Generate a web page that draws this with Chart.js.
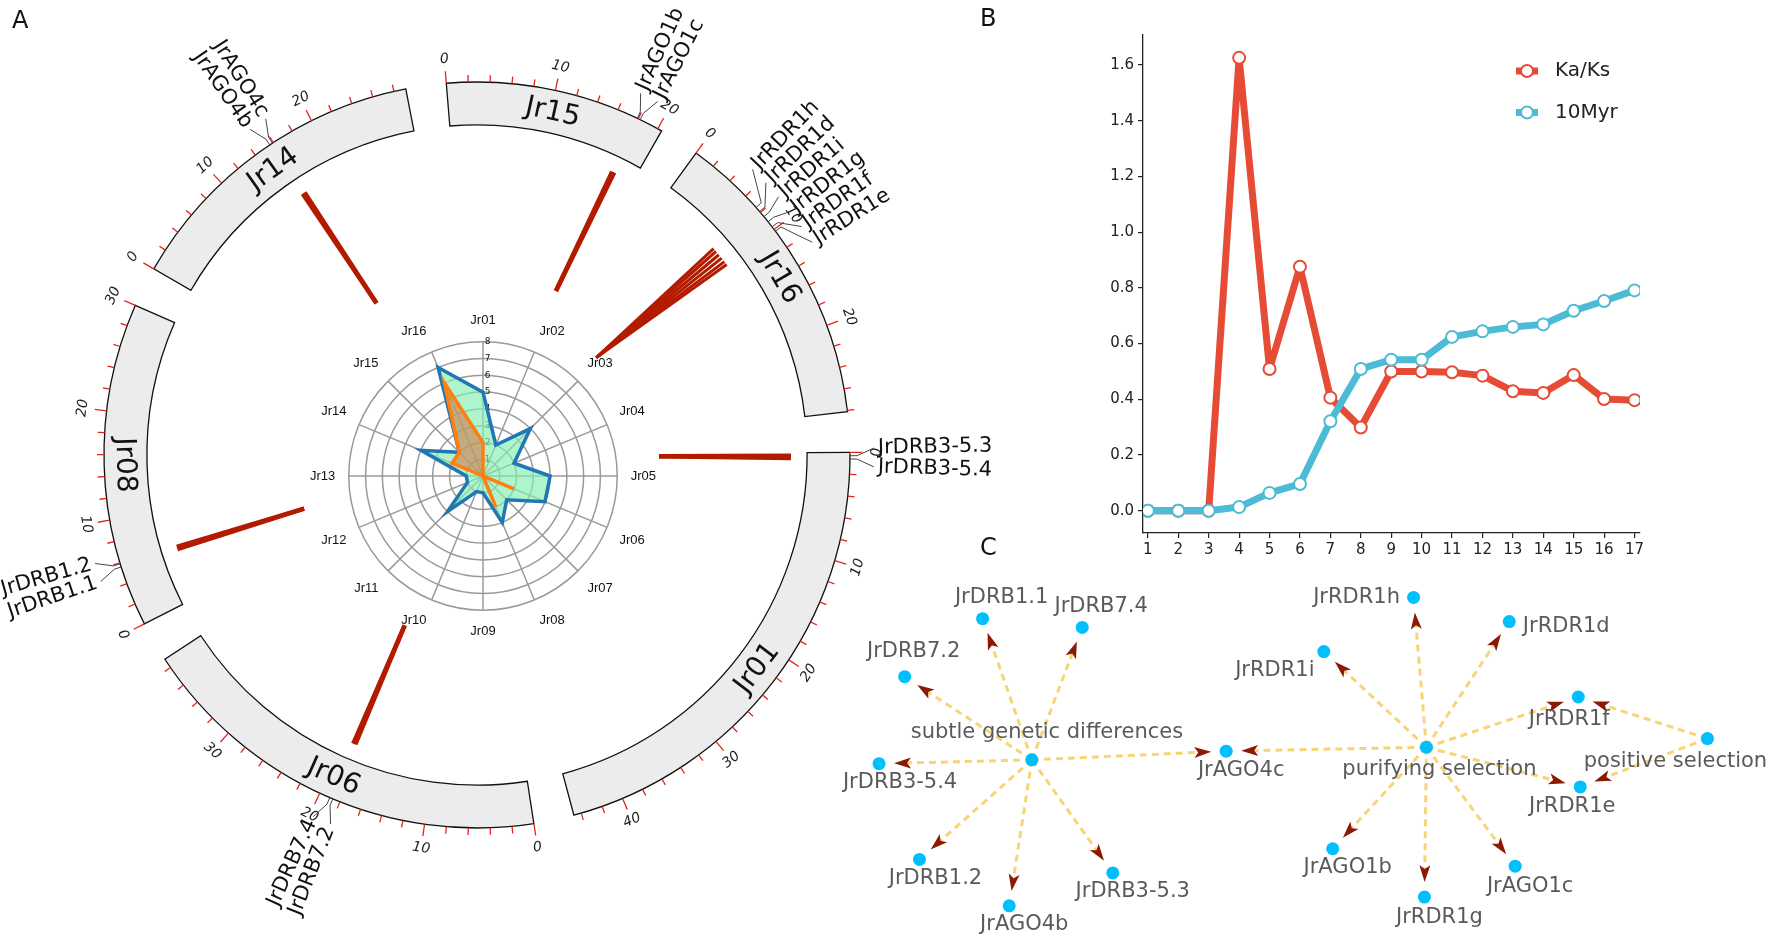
<!DOCTYPE html>
<html>
<head>
<meta charset="utf-8">
<script src="https://cdn.jsdelivr.net/npm/chart.js@4.4.1/dist/chart.umd.min.js"></script>
<style>
  body { margin: 0; background: #fff; }
  #page { position: relative; width: 1783px; height: 950px; overflow: hidden; font-family: 'DejaVu Sans', sans-serif; }
  canvas { position: absolute; }
  .tag { position: absolute; font-size: 24px; line-height: 24px; color: #111; }
</style>
</head>
<body>
<div id="page">
  <canvas id="circos" width="1010" height="950" style="left:0;top:0"></canvas>
  <canvas id="radar" width="346" height="346" style="left:310px;top:303px"></canvas>
  <canvas id="lines" width="703" height="580" style="left:1080px;top:0"></canvas>
  <canvas id="network" width="943" height="390" style="left:840px;top:560px"></canvas>
  <div class="tag" style="left:12px;top:8px">A</div>
  <div class="tag" style="left:980px;top:6px">B</div>
  <div class="tag" style="left:980px;top:535px">C</div>
</div>
<script>
// ---------- data ----------
// A: chromosomes (Mb) and gene positions
const chromNames = ['Jr01', 'Jr06', 'Jr08', 'Jr14', 'Jr15', 'Jr16'];
const chromLengths = [44.7, 38.9, 30.0, 29.1, 20.4, 28.1];
const geneNames = ['JrDRB3-5.3', 'JrDRB3-5.4', 'JrDRB7.2', 'JrDRB7.4', 'JrDRB1.1', 'JrDRB1.2',
  'JrAGO4b', 'JrAGO4c', 'JrAGO1b', 'JrAGO1c',
  'JrRDR1h', 'JrRDR1d', 'JrRDR1i', 'JrRDR1g', 'JrRDR1f', 'JrRDR1e'];
const geneChrom = ['Jr01', 'Jr01', 'Jr06', 'Jr06', 'Jr08', 'Jr08', 'Jr14', 'Jr14', 'Jr15', 'Jr15',
  'Jr16', 'Jr16', 'Jr16', 'Jr16', 'Jr16', 'Jr16'];
const genePos = [0.3, 0.6, 18.7, 19.0, 5.6, 5.9, 15.6, 15.9, 17.9, 18.2, 7.4, 7.9, 8.5, 9.1, 9.7, 10.2];

// A: radar in the middle
const radarLabels = ['Jr01', 'Jr02', 'Jr03', 'Jr04', 'Jr05', 'Jr06', 'Jr07', 'Jr08',
  'Jr09', 'Jr10', 'Jr11', 'Jr12', 'Jr13', 'Jr14', 'Jr15', 'Jr16'];
const radarOuter = [5, 2, 4, 2, 4, 4, 2, 3, 1, 1, 3, 1, 1, 4, 2, 7];
const radarInner = [2, 0, 0, 0, 0, 2, 0, 2, 0, 0, 0, 0, 0, 2, 2, 6];

// B: line chart
const stages = [1, 2, 3, 4, 5, 6, 7, 8, 9, 10, 11, 12, 13, 14, 15, 16, 17];
const kaKs = [0, 0, 0, 1.626, 0.509, 0.876, 0.406, 0.299, 0.5, 0.5, 0.497, 0.485, 0.429, 0.423, 0.487, 0.401, 0.397];
const myr10 = [0, 0, 0, 0.013, 0.064, 0.096, 0.321, 0.509, 0.542, 0.542, 0.624, 0.644, 0.66, 0.669, 0.718, 0.753, 0.791];

// C: network (layout units)
const nodeNames = ['subtle genetic differences', 'JrDRB1.1', 'JrDRB7.4', 'JrDRB7.2', 'JrDRB3-5.4',
  'JrDRB1.2', 'JrAGO4b', 'JrDRB3-5.3', 'JrAGO4c', 'purifying selection', 'JrRDR1h', 'JrRDR1d',
  'JrRDR1i', 'JrRDR1f', 'positive selection', 'JrRDR1e', 'JrAGO1b', 'JrRDR1g', 'JrAGO1c'];
const nodeX = [1.88, 1.38, 2.39, 0.59, 0.33, 0.74, 1.65, 2.70, 3.85, 5.88, 5.75, 6.72, 4.84, 7.42, 8.73, 7.44, 4.93, 5.86, 6.78];
const nodeY = [1.90, 3.36, 3.27, 2.76, 1.86, 0.87, 0.39, 0.73, 1.99, 2.03, 3.58, 3.33, 3.02, 2.55, 2.12, 1.62, 0.98, 0.48, 0.80];
const edgeFrom = ['subtle genetic differences', 'subtle genetic differences', 'subtle genetic differences',
  'subtle genetic differences', 'subtle genetic differences', 'subtle genetic differences',
  'subtle genetic differences', 'subtle genetic differences',
  'purifying selection', 'purifying selection', 'purifying selection', 'purifying selection',
  'purifying selection', 'purifying selection', 'purifying selection', 'purifying selection',
  'purifying selection', 'positive selection', 'positive selection'];
const edgeTo = ['JrDRB1.1', 'JrDRB7.4', 'JrDRB7.2', 'JrDRB3-5.4', 'JrDRB1.2', 'JrAGO4b', 'JrDRB3-5.3', 'JrAGO4c',
  'JrAGO4c', 'JrRDR1h', 'JrRDR1d', 'JrRDR1i', 'JrRDR1f', 'JrRDR1e', 'JrAGO1b', 'JrRDR1g', 'JrAGO1c',
  'JrRDR1f', 'JrRDR1e'];

// ---------- layout / style ----------
Chart.defaults.font.family = "'DejaVu Sans', sans-serif";
const GAP_MB = 3.73;           // blank between chromosomes
const LINK_OUTER = 314;
const LINK_BUNDLE = 0.8;       // links of one chromosome pulled together
const linkInnerRadius = { Jr01: 182, Jr06: 185, Jr08: 181, Jr14: 182, Jr15: 182, Jr16: 154 };
const radarCenter = { x: 483, y: 476 };
const netLabelOffset = {
  'subtle genetic differences': [15, -27], 'JrDRB1.1': [19, -21], 'JrDRB7.4': [19, -21],
  'JrDRB7.2': [9, -25], 'JrDRB3-5.4': [21, 19], 'JrDRB1.2': [16, 19], 'JrAGO4b': [15, 19],
  'JrDRB3-5.3': [20, 19], 'JrAGO4c': [15, 19], 'purifying selection': [13, 22],
  'JrRDR1h': [-57, 0], 'JrRDR1d': [57, 5], 'JrRDR1i': [-49, 19], 'JrRDR1f': [-9, 23],
  'positive selection': [-32, 23], 'JrRDR1e': [-8, 20], 'JrAGO1b': [15, 19],
  'JrRDR1g': [15, 20], 'JrAGO1c': [15, 20]
};
const quiet = { legend: { display: false }, tooltip: { enabled: false } };

// text turned along the circle, kept upright
function tangentRot(a) {
  let th = (a + Math.PI / 2) % (2 * Math.PI);
  if (th < 0) th += 2 * Math.PI;
  if (th > Math.PI / 2 + 1e-3 && th < 1.5 * Math.PI - 1e-3) return th - Math.PI;
  return th;
}

// ---------- A: ideogram ----------
const ringData = [];
const ringFill = [];
const ringBorder = [];
chromLengths.forEach(len => {
  ringData.push(len, GAP_MB);
  ringFill.push('#ececec', 'rgba(0,0,0,0)');
  ringBorder.push(1.3, 0);
});

const circosDecor = {
  id: 'circosDecor',
  afterDatasetsDraw(chart) {
    const ctx = chart.ctx;
    const arcs = chart.getDatasetMeta(0).data;
    ctx.save();
    chromNames.forEach((name, i) => {
      const el = arcs[i * 2];
      const len = chromLengths[i];
      const outer = el.outerRadius, inner = el.innerRadius;
      const angleAt = p => el.startAngle + (el.endAngle - el.startAngle) * p / len;
      const pt = (a, r) => [el.x + r * Math.cos(a), el.y + r * Math.sin(a)];

      // ticks every 2 Mb, labels every 10 Mb
      for (let p = 0; p <= len + 1e-9; p += 2) {
        const a = angleAt(p);
        const major = p % 10 === 0;
        const [x0, y0] = pt(a, outer);
        const [x1, y1] = pt(a, outer + (major ? 12 : 7));
        ctx.strokeStyle = '#e3211c';
        ctx.lineWidth = 1.3;
        ctx.beginPath(); ctx.moveTo(x0, y0); ctx.lineTo(x1, y1); ctx.stroke();
        if (major) {
          const [tx, ty] = pt(a, outer + 24);
          ctx.save();
          ctx.translate(tx, ty);
          ctx.rotate(tangentRot(a));
          ctx.font = "italic 14px 'DejaVu Sans'";
          ctx.fillStyle = '#222';
          ctx.textAlign = 'center';
          ctx.textBaseline = 'middle';
          ctx.fillText(String(p), 0, 0);
          ctx.restore();
        }
      }

      // chromosome name inside the block
      const mid = (el.startAngle + el.endAngle) / 2;
      const [mx, my] = pt(mid, (inner + outer) / 2);
      ctx.save();
      ctx.translate(mx, my);
      ctx.rotate(tangentRot(mid));
      ctx.font = "28px 'DejaVu Sans'";
      ctx.fillStyle = '#111';
      ctx.textAlign = 'center';
      ctx.textBaseline = 'middle';
      ctx.fillText(name, 0, 1);
      ctx.restore();

      // genes on this chromosome
      const idx = geneNames.map((g, k) => k).filter(k => geneChrom[k] === name);
      if (!idx.length) return;
      const angles = idx.map(k => angleAt(genePos[k]));
      const meanA = angles.reduce((s, v) => s + v, 0) / angles.length;
      const step = 19 / 400;

      // links (thinner when many share one chromosome)
      ctx.strokeStyle = '#b31b00';
      ctx.lineWidth = angles.length > 2 ? 3 : 4.5;
      ctx.lineCap = 'butt';
      angles.forEach(a => {
        const [ox, oy] = pt(meanA + (a - meanA) * LINK_BUNDLE, LINK_OUTER);
        const [ix, iy] = pt(meanA, linkInnerRadius[name]);
        ctx.beginPath(); ctx.moveTo(ox, oy); ctx.lineTo(ix, iy); ctx.stroke();
      });

      // labels with leader lines
      idx.forEach((k, j) => {
        const ga = angles[j];
        const la = meanA + (j - (idx.length - 1) / 2) * step;
        const [x0, y0] = pt(ga, outer);
        const [x1, y1] = pt(ga, outer + 7);
        const [x2, y2] = pt(la, outer + 24);
        ctx.strokeStyle = '#444';
        ctx.lineWidth = 1;
        ctx.beginPath(); ctx.moveTo(x0, y0); ctx.lineTo(x1, y1); ctx.lineTo(x2, y2); ctx.stroke();
        const [tx, ty] = pt(la, outer + 28);
        let th = (la + Math.PI / 2) % (2 * Math.PI);
        if (th < 0) th += 2 * Math.PI;
        ctx.save();
        ctx.translate(tx, ty);
        ctx.font = "21px 'DejaVu Sans'";
        ctx.fillStyle = '#111';
        ctx.textBaseline = 'middle';
        if (th < Math.PI) { ctx.rotate(la); ctx.textAlign = 'left'; }
        else { ctx.rotate(la + Math.PI); ctx.textAlign = 'right'; }
        ctx.fillText(geneNames[k], 0, 0);
        ctx.restore();
      });
    });
    ctx.restore();
  }
};

new Chart(document.getElementById('circos'), {
  type: 'doughnut',
  data: {
    labels: ringData.map((v, i) => i % 2 ? '' : chromNames[i / 2]),
    datasets: [{
      data: ringData,
      backgroundColor: ringFill,
      borderColor: '#111',
      borderWidth: ringBorder,
      borderJoinStyle: 'miter'
    }]
  },
  options: {
    responsive: false,
    animation: false,
    events: [],
    rotation: 89.6,
    radius: 373,
    cutout: '88.5%',
    layout: { padding: { left: 104, top: 82, right: 160, bottom: 122 } },
    plugins: quiet
  },
  plugins: [circosDecor]
});

// ---------- A: radar ----------
const radarCanvas = document.getElementById('radar');
const radarChart = new Chart(radarCanvas, {
  type: 'radar',
  data: {
    labels: radarLabels,
    datasets: [
      { label: 'inner', data: radarInner, borderColor: '#ff7f0e', backgroundColor: 'rgba(215,110,60,0.55)',
        borderWidth: 3.5, pointRadius: 0, fill: true },
      { label: 'outer', data: radarOuter, borderColor: '#1f77b4', backgroundColor: 'rgba(130,240,180,0.65)',
        borderWidth: 3.5, pointRadius: 0, fill: true }
    ]
  },
  options: {
    responsive: false,
    animation: false,
    events: [],
    plugins: quiet,
    scales: {
      r: {
        min: 0, max: 8,
        ticks: { stepSize: 1, font: { size: 9 }, color: '#111', showLabelBackdrop: false, backdropPadding: 0,
          callback: v => '\u2002\u2002' + v },
        grid: { circular: true, color: '#9a9a9a', lineWidth: 1.5 },
        angleLines: { color: '#9a9a9a', lineWidth: 1.5 },
        pointLabels: { font: { size: 13, family: "'Liberation Sans', Arial, sans-serif" }, color: '#111', padding: 9 }
      }
    }
  }
});
const rs = radarChart.scales.r;
radarCanvas.style.left = (radarCenter.x - rs.xCenter) + 'px';
radarCanvas.style.top = (radarCenter.y - rs.yCenter) + 'px';

// ---------- B: line chart ----------
const seriesKey = {
  id: 'seriesKey',
  afterDraw(chart) {
    const ctx = chart.ctx;
    ctx.save();
    chart.data.datasets.forEach((ds, i) => {
      const cx = 447, cy = 71 + i * 41.5;
      ctx.strokeStyle = ds.borderColor;
      ctx.lineWidth = 7;
      ctx.beginPath(); ctx.moveTo(cx - 11, cy); ctx.lineTo(cx + 11, cy); ctx.stroke();
      ctx.fillStyle = '#fff';
      ctx.lineWidth = 2;
      ctx.beginPath(); ctx.arc(cx, cy, 6, 0, Math.PI * 2); ctx.fill(); ctx.stroke();
      ctx.fillStyle = '#222';
      ctx.font = "20px 'DejaVu Sans'";
      ctx.textBaseline = 'middle';
      ctx.fillText(ds.label, cx + 28, cy);
    });
    ctx.restore();
  }
};

const axisStyle = {
  grid: { drawOnChartArea: false, drawTicks: true, tickLength: 5, color: '#222', lineWidth: 1.2 },
  border: { color: '#222', width: 1.3 }
};

new Chart(document.getElementById('lines'), {
  type: 'line',
  data: {
    datasets: [
      { label: 'Ka/Ks', data: stages.map((s, i) => ({ x: s, y: kaKs[i] })), borderColor: '#e64b35',
        borderWidth: 7, borderJoinStyle: 'round', pointRadius: 6, pointBackgroundColor: '#fff',
        pointBorderColor: '#e64b35', pointBorderWidth: 2, tension: 0, order: 1 },
      { label: '10Myr', data: stages.map((s, i) => ({ x: s, y: myr10[i] })), borderColor: '#4dbbd5',
        borderWidth: 7, borderJoinStyle: 'round', pointRadius: 6, pointBackgroundColor: '#fff',
        pointBorderColor: '#4dbbd5', pointBorderWidth: 2, tension: 0, order: 0 }
    ]
  },
  options: {
    responsive: false,
    animation: false,
    events: [],
    layout: { padding: { left: 0, top: 35, right: 143, bottom: 0 } },
    plugins: quiet,
    scales: {
      x: {
        type: 'linear', min: 0.84, max: 17.18,
        ticks: { stepSize: 1, includeBounds: false, autoSkip: false, maxRotation: 0, font: { size: 15 }, color: '#222', padding: 3 },
        ...axisStyle,
        afterFit: s => { s.height = 47; }
      },
      y: {
        min: -0.08, max: 1.708,
        ticks: { stepSize: 0.2, includeBounds: false, font: { size: 15 }, color: '#222', padding: 4,
          callback: v => Number(v).toFixed(1) },
        ...axisStyle,
        afterFit: s => { s.width = 63; }
      }
    }
  },
  plugins: [seriesKey]
});

// ---------- C: network ----------
const netEdges = {
  id: 'netEdges',
  beforeDatasetsDraw(chart) {
    const ctx = chart.ctx;
    const xs = chart.scales.x, ys = chart.scales.y;
    const px = n => {
      const i = nodeNames.indexOf(n);
      return [xs.getPixelForValue(nodeX[i]), ys.getPixelForValue(nodeY[i])];
    };
    ctx.save();
    edgeFrom.forEach((f, k) => {
      const [x1, y1] = px(f);
      const [x2, y2] = px(edgeTo[k]);
      const L = Math.hypot(x2 - x1, y2 - y1);
      const ux = (x2 - x1) / L, uy = (y2 - y1) / L;
      const tx = x2 - ux * 15, ty = y2 - uy * 15;
      ctx.setLineDash([7, 5]);
      ctx.strokeStyle = 'rgba(248,205,95,0.85)';
      ctx.lineWidth = 3;
      ctx.beginPath(); ctx.moveTo(x1, y1); ctx.lineTo(tx - ux * 10, ty - uy * 10); ctx.stroke();
      ctx.setLineDash([]);
      const bx = tx - ux * 17, by = ty - uy * 17;
      ctx.fillStyle = '#8b1a04';
      ctx.beginPath();
      ctx.moveTo(tx, ty);
      ctx.lineTo(bx - uy * 5.5, by + ux * 5.5);
      ctx.lineTo(bx + ux * 4, by + uy * 4);
      ctx.lineTo(bx + uy * 5.5, by - ux * 5.5);
      ctx.closePath();
      ctx.fill();
    });
    ctx.restore();
  },
  afterDatasetsDraw(chart) {
    const ctx = chart.ctx;
    const xs = chart.scales.x, ys = chart.scales.y;
    ctx.save();
    ctx.font = "21px 'DejaVu Sans'";
    ctx.fillStyle = '#5a5a5a';
    ctx.textAlign = 'center';
    ctx.textBaseline = 'middle';
    nodeNames.forEach((n, i) => {
      const off = netLabelOffset[n];
      ctx.fillText(n, xs.getPixelForValue(nodeX[i]) + off[0], ys.getPixelForValue(nodeY[i]) + off[1]);
    });
    ctx.restore();
  }
};

new Chart(document.getElementById('network'), {
  type: 'scatter',
  data: {
    datasets: [{
      data: nodeNames.map((n, i) => ({ x: nodeX[i], y: nodeY[i] })),
      pointRadius: 6.5,
      backgroundColor: '#00bfff',
      borderWidth: 0,
      clip: false
    }]
  },
  options: {
    responsive: false,
    animation: false,
    events: [],
    layout: { padding: 0 },
    plugins: quiet,
    scales: {
      x: { type: 'linear', min: 0, max: 9.43, display: false },
      y: { type: 'linear', min: 0, max: 3.9, display: false }
    }
  },
  plugins: [netEdges]
});
</script>
</body>
</html>
